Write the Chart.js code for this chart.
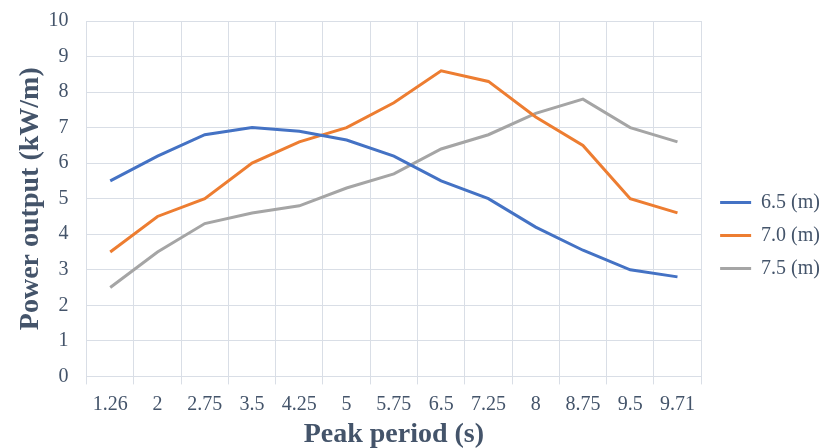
<!DOCTYPE html>
<html>
<head>
<meta charset="utf-8">
<script src="https://cdn.jsdelivr.net/npm/chart.js@4.4.0/dist/chart.umd.min.js"></script>
<style>
html,body{margin:0;padding:0;background:#fff;}
#wrap{width:824px;height:448px;position:relative;}
</style>
</head>
<body>
<div id="wrap"><canvas id="c" width="824" height="448"></canvas></div>
<script>
const categories = ['1.26','2','2.75','3.5','4.25','5','5.75','6.5','7.25','8','8.75','9.5','9.71'];
const seriesNames = ['6.5 (m)','7.0 (m)','7.5 (m)'];
const s65 = [5.5, 6.2, 6.8, 7.0, 6.9, 6.65, 6.2, 5.5, 5.0, 4.2, 3.55, 3.0, 2.8];
const s70 = [3.5, 4.5, 5.0, 6.0, 6.6, 7.0, 7.7, 8.6, 8.3, 7.3, 6.5, 5.0, 4.6];
const s75 = [2.5, 3.5, 4.3, 4.6, 4.8, 5.3, 5.7, 6.4, 6.8, 7.4, 7.8, 7.0, 6.6];
const colors = ['#4472C4','#ED7D31','#A5A5A5'];
const textColor = '#44546A';
const gridColor = '#D9DEE6';
const serif = "'Liberation Serif','Times New Roman',serif";

const legendShift = {
  id: 'legendShift',
  afterLayout(chart) {
    const lg = chart.legend;
    if (lg) { lg.top += 8; lg.bottom += 8; lg.left += 6; lg.right += 6; }
  }
};

new Chart(document.getElementById('c'), {
  type: 'line',
  data: {
    labels: categories,
    datasets: [s65, s70, s75].map((d, i) => ({
      label: seriesNames[i],
      data: d,
      borderColor: colors[i],
      backgroundColor: colors[i],
      borderWidth: 3,
      pointRadius: 0,
      pointHoverRadius: 0,
      tension: 0,
      fill: false
    }))
  },
  options: {
    responsive: false,
    animation: false,
    layout: { padding: { top: 3, left: 14, right: 0, bottom: -4 } },
    plugins: {
      legend: {
        position: 'right',
        labels: {
          usePointStyle: true,
          pointStyle: 'line',
          pointStyleWidth: 31,
          boxHeight: 20,
          padding: 13,
          color: textColor,
          font: { family: serif, size: 20 }
        }
      },
      tooltip: { enabled: false }
    },
    scales: {
      x: {
        offset: true,
        grid: { color: gridColor, lineWidth: 1, offset: true, drawTicks: true, tickLength: 8 },
        border: { color: gridColor },
        ticks: { color: textColor, font: { family: serif, size: 20 }, padding: 8, maxRotation: 0, autoSkip: false },
        title: { display: true, text: 'Peak period (s)', color: textColor, font: { family: serif, size: 28, weight: 'bold' }, padding: { top: -6, bottom: 0 } }
      },
      y: {
        min: 0, max: 10,
        grid: { color: gridColor, lineWidth: 1, drawTicks: true, tickLength: 9, tickColor: 'rgba(0,0,0,0)' },
        border: { color: gridColor },
        ticks: { stepSize: 1, color: textColor, font: { family: serif, size: 20 }, padding: 9 },
        title: { display: true, text: 'Power output (kW/m)', color: textColor, font: { family: serif, size: 28, weight: 'bold' }, padding: { top: 0, bottom: -8 } }
      }
    }
  },
  plugins: [legendShift]
});
</script>
</body>
</html>
